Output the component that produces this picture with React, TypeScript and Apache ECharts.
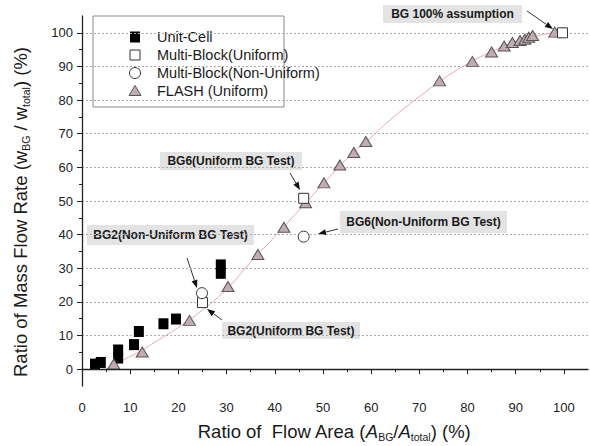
import React, { useEffect, useRef } from 'react';
import * as echarts from 'echarts';

// ---- data ----
const unitCellX = [2.7, 3.9, 7.5, 7.5, 10.8, 11.8, 16.9, 19.5, 28.8, 28.8];
const unitCellY = [1.5, 2.0, 3.3, 5.7, 7.3, 11.2, 13.5, 14.9, 28.5, 31.0];
const mbUniformX = [25.0, 46.0, 99.7];
const mbUniformY = [19.8, 50.8, 100.0];
const mbNonUniformX = [24.9, 46.0];
const mbNonUniformY = [22.6, 39.4];
const flashX = [6.6, 12.5, 22.3, 30.3, 36.5, 41.9, 46.4, 50.2, 53.5, 56.4, 58.9, 74.2, 81.0, 85.0, 87.6, 89.3, 90.9, 91.9, 92.7, 93.5, 98.1];
const flashY = [1.5, 5.1, 14.5, 24.6, 34.1, 42.2, 49.5, 55.4, 60.7, 64.4, 67.7, 85.7, 91.5, 94.3, 96.1, 97.1, 97.7, 98.1, 98.7, 99.2, 100.2];
const fitX = [4.5, 8, 12, 16, 20, 25, 30, 35, 40, 45, 50, 55, 60, 65, 70, 75, 80, 85, 90, 95, 99];
const fitY = [-0.3, 2.3, 5.3, 8.8, 12.4, 17.6, 23.8, 31.8, 39.4, 47.2, 55.0, 62.6, 69.0, 75.4, 81.0, 86.3, 90.8, 94.4, 97.4, 99.3, 100.2];

const xMajor = [0, 10, 20, 30, 40, 50, 60, 70, 80, 90, 100];
const xMinor = [5, 15, 25, 35, 45, 55, 65, 75, 85, 95];
const yMajor = [0, 10, 20, 30, 40, 50, 60, 70, 80, 90, 100];
const yMinor = [5, 15, 25, 35, 45, 55, 65, 75, 85, 95];

const legendNames = ['Unit-Cell', 'Multi-Block(Uniform)', 'Multi-Block(Non-Uniform)', 'FLASH (Uniform)'];

const annotations = [
  { text: 'BG 100% assumption', box: [383, 5, 522, 23], arrow: [527, 11, 553, 29] },
  { text: 'BG6(Uniform BG Test)', box: [160, 152, 302, 170], arrow: [290, 173, 300, 190] },
  { text: 'BG6(Non-Uniform BG Test)', box: [340, 211, 507, 233], arrow: [338, 229, 318, 234] },
  { text: 'BG2(Non-Uniform BG Test)', box: [87, 225, 254, 245], arrow: [187, 258, 197, 288] },
  { text: 'BG2(Uniform BG Test)', box: [222, 322, 360, 339], arrow: [222, 320, 207, 309] },
];

const FONT = '"Liberation Sans", Arial, Helvetica, sans-serif';
const TRI_FILL = '#c3abb1';

// plot frame geometry
const G_LEFT = 82, G_RIGHT = 2, G_TOP = 16, G_BOTTOM = 60;
const Y_MIN = -5, Y_MAX = 105;

function zip(xs: number[], ys: number[]) {
  return xs.map((x, i) => [x, ys[i]]);
}

function arrow(x1: number, y1: number, x2: number, y2: number) {
  const ang = Math.atan2(y2 - y1, x2 - x1);
  const L = 8, W = 3;
  const bx = x2 - L * Math.cos(ang);
  const by = y2 - L * Math.sin(ang);
  const px = -Math.sin(ang) * W;
  const py = Math.cos(ang) * W;
  return [
    { type: 'line', shape: { x1, y1, x2: bx, y2: by }, style: { stroke: '#333', lineWidth: 1 } },
    { type: 'polygon', shape: { points: [[x2, y2], [bx + px, by + py], [bx - px, by - py]] }, style: { fill: '#111' } },
  ];
}

export default function App() {
  const ref = useRef<HTMLDivElement>(null);
  useEffect(() => {
    if (!ref.current) return;
    const chart = echarts.init(ref.current, null, { renderer: 'svg' });

    // inner grid holding only the 0..100 dotted grid lines
    const plotH = 446 - G_TOP - G_BOTTOM;
    const pxPerUnit = plotH / (Y_MAX - Y_MIN);
    const innerTop = G_TOP + (Y_MAX - 100) * pxPerUnit;
    const innerBottom = G_BOTTOM + (0 - Y_MIN) * pxPerUnit;

    const legendRows = [37, 55, 73, 91];
    const legendGraphics: any[] = [
      { type: 'rect', shape: { x: 93, y: 16, width: 191, height: 91 }, style: { fill: '#fff', stroke: '#8a8a8a', lineWidth: 1 } },
      { type: 'rect', shape: { x: 130, y: legendRows[0] - 5.5, width: 10, height: 11 }, style: { fill: '#000' } },
      { type: 'rect', shape: { x: 130, y: legendRows[1] - 5, width: 10, height: 10 }, style: { fill: '#fff', stroke: '#333', lineWidth: 1 } },
      { type: 'circle', shape: { cx: 135, cy: legendRows[2], r: 5.5 }, style: { fill: '#fff', stroke: '#333', lineWidth: 1 } },
      { type: 'polygon', shape: { points: [[135, legendRows[3] - 5.5], [141, legendRows[3] + 4.5], [129, legendRows[3] + 4.5]] }, style: { fill: TRI_FILL, stroke: '#555', lineWidth: 1 } },
      ...legendNames.map((n, i) => ({
        type: 'text', x: 157, y: legendRows[i],
        style: { text: n, fill: '#1a1a1a', font: `14.5px ${FONT}`, verticalAlign: 'middle', align: 'left' },
      })),
    ];

    const annGraphics: any[] = [];
    annotations.forEach((a) => {
      const [x1, y1, x2, y2] = a.box;
      annGraphics.push({ type: 'rect', shape: { x: x1, y: y1, width: x2 - x1, height: y2 - y1 }, style: { fill: '#e3e3e3' } });
      annGraphics.push({
        type: 'text', x: (x1 + x2) / 2, y: (y1 + y2) / 2,
        style: { text: a.text, fill: '#1a1a1a', font: `bold 12px ${FONT}`, align: 'center', verticalAlign: 'middle' },
      });
      annGraphics.push(...arrow(a.arrow[0], a.arrow[1], a.arrow[2], a.arrow[3]));
    });

    const nameRich = {
      n: { fontSize: 18.5, fontFamily: FONT, fill: '#1a1a1a', lineHeight: 23, verticalAlign: 'middle' },
      i: { fontSize: 18.5, fontFamily: FONT, fontStyle: 'italic', fill: '#1a1a1a', lineHeight: 23, verticalAlign: 'middle' },
      s: { fontSize: 10.5, fontFamily: FONT, fill: '#1a1a1a', lineHeight: 10, verticalAlign: 'bottom' },
    };

    const nameGraphics: any[] = [
      {
        type: 'text', x: 334, y: 431,
        style: {
          text: '{n|Ratio of  Flow Area (}{i|A}{s|BG}{n|/}{i|A}{s|total}{n|) (%)}',
          rich: nameRich, align: 'center', verticalAlign: 'middle',
        },
      },
      {
        type: 'text', x: 20, y: 212, rotation: Math.PI / 2,
        style: {
          text: '{n|Ratio of Mass Flow Rate (w}{s|BG}{n| / w}{s|total}{n|) (%)}',
          rich: nameRich, align: 'center', verticalAlign: 'middle',
        },
      },
    ];

    const axisCommon = {
      type: 'value',
      splitLine: { show: false },
      axisPointer: { show: false },
    };

    const option: any = {
      animation: false,
      backgroundColor: '#ffffff',
      grid: [
        { left: G_LEFT, right: G_RIGHT, top: G_TOP, bottom: G_BOTTOM, containLabel: false },
        { left: G_LEFT, right: G_RIGHT, top: innerTop, bottom: innerBottom, containLabel: false },
      ],
      xAxis: [
        {
          ...axisCommon, gridIndex: 0, min: 0, max: 105,
          axisLine: { show: true, lineStyle: { color: '#222', width: 1.3 } },
          axisTick: { show: true, length: 5, customValues: xMajor, lineStyle: { color: '#222', width: 1 } },
          axisLabel: { show: true, customValues: xMajor, margin: 15, fontSize: 13, color: '#222', fontFamily: FONT },
          z: 5,
        },
        {
          ...axisCommon, gridIndex: 0, min: 0, max: 105, position: 'bottom',
          axisLine: { show: false },
          axisTick: { show: true, length: 3, customValues: xMinor, lineStyle: { color: '#222', width: 1 } },
          axisLabel: { show: false },
        },
        {
          type: 'value', gridIndex: 1, min: 0, max: 105, show: false,
        },
      ],
      yAxis: [
        {
          ...axisCommon, gridIndex: 0, min: Y_MIN, max: Y_MAX,
          axisLine: { show: true, lineStyle: { color: '#222', width: 1.3 } },
          axisTick: { show: true, length: 5, customValues: yMajor, lineStyle: { color: '#222', width: 1 } },
          axisLabel: { show: true, customValues: yMajor, margin: 9, fontSize: 13, color: '#222', fontFamily: FONT },
          z: 5,
        },
        {
          ...axisCommon, gridIndex: 0, min: Y_MIN, max: Y_MAX, position: 'left',
          axisLine: { show: false },
          axisTick: { show: true, length: 3, customValues: yMinor, lineStyle: { color: '#222', width: 1 } },
          axisLabel: { show: false },
        },
        {
          type: 'value', gridIndex: 1, min: 0, max: 100, interval: 10, show: true,
          axisLine: { show: false }, axisTick: { show: false }, axisLabel: { show: false },
          axisPointer: { show: false },
          splitLine: { show: true, showMinLine: true, showMaxLine: true, lineStyle: { type: [2, 2], color: '#acacac', width: 1, opacity: 1 } },
        },
      ],
      series: [
        {
          name: 'fit', type: 'line', data: zip(fitX, fitY), smooth: true, showSymbol: false, symbol: 'none',
          clip: false, z: 1,
          lineStyle: { color: '#e6a9ad', width: 1 },
        },
        {
          name: legendNames[0], type: 'scatter', data: zip(unitCellX, unitCellY),
          symbol: 'rect', symbolSize: [10, 11], clip: false, z: 3,
          itemStyle: { color: '#000', opacity: 1 },
        },
        {
          name: legendNames[3], type: 'scatter', data: zip(flashX, flashY),
          symbol: 'triangle', symbolSize: [12, 10], clip: false, z: 3,
          itemStyle: { color: TRI_FILL, borderColor: '#555', borderWidth: 1, opacity: 1 },
        },
        {
          name: legendNames[1], type: 'scatter', data: zip(mbUniformX, mbUniformY),
          symbol: 'rect', symbolSize: 10, clip: false, z: 4,
          itemStyle: { color: '#fff', borderColor: '#333', borderWidth: 1, opacity: 1 },
        },
        {
          name: legendNames[2], type: 'scatter', data: zip(mbNonUniformX, mbNonUniformY),
          symbol: 'circle', symbolSize: 11, clip: false, z: 4,
          itemStyle: { color: '#fff', borderColor: '#333', borderWidth: 1, opacity: 1 },
        },
      ],
      graphic: [
        { type: 'group', z: 100, children: [...legendGraphics, ...annGraphics, ...nameGraphics] },
      ],
    };

    chart.setOption(option);
    return () => chart.dispose();
  }, []);

  return (
    <div
      ref={ref}
      style={{ position: 'fixed', left: 0, top: 0, width: 590, height: 446, background: '#fff' }}
    />
  );
}
